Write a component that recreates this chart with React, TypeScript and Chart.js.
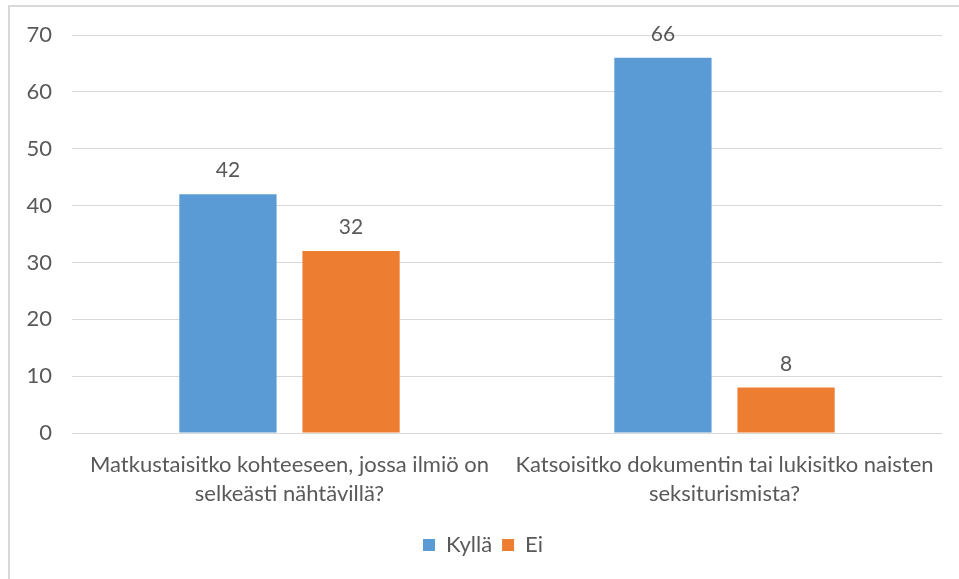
import React, { useEffect, useRef } from "react";
import { Chart, registerables } from "chart.js";

Chart.register(...registerables);

const categories: string[][] = [
  ["Matkustaisitko kohteeseen, jossa ilmiö on", "selkeästi nähtävillä?"],
  ["Katsoisitko dokumentin tai lukisitko naisten", "seksiturismista?"],
];
const seriesNames = ["Kyllä", "Ei"];
const kylla = [42, 66];
const ei = [32, 8];
const yTicks = [0, 10, 20, 30, 40, 50, 60, 70];

const FONT = "Lato, 'Open Sans', sans-serif";
const TEXT = "#595959";

const dataLabels = {
  id: "dataLabels",
  afterDatasetsDraw(chart: any) {
    const ctx = chart.ctx;
    ctx.save();
    ctx.font = `21px ${FONT}`;
    ctx.fillStyle = TEXT;
    ctx.textAlign = "center";
    ctx.textBaseline = "alphabetic";
    chart.data.datasets.forEach((ds: any, i: number) => {
      const meta = chart.getDatasetMeta(i);
      meta.data.forEach((el: any, j: number) => {
        ctx.fillText(String(ds.data[j]), el.x, el.y - 17);
      });
    });
    ctx.restore();
  },
};

export default function App() {
  const ref = useRef<HTMLCanvasElement>(null);
  useEffect(() => {
    if (!ref.current) return;
    const chart = new Chart(ref.current, {
      type: "bar",
      data: {
        labels: categories,
        datasets: [
          {
            label: seriesNames[0],
            data: kylla,
            backgroundColor: "#5B9BD5",
            barPercentage: 0.79,
            categoryPercentage: 0.566,
          },
          {
            label: seriesNames[1],
            data: ei,
            backgroundColor: "#ED7D31",
            barPercentage: 0.79,
            categoryPercentage: 0.566,
          },
        ],
      },
      options: {
        responsive: false,
        animation: false,
        layout: { padding: { top: 35, right: 17, bottom: 13, left: 24 } },
        plugins: {
          legend: {
            position: "bottom",
            labels: {
              boxWidth: 12,
              boxHeight: 12,
              padding: 10,
              color: TEXT,
              font: { family: FONT, size: 22 },
            },
          },
          tooltip: { enabled: false },
        },
        scales: {
          x: {
            grid: { display: false, drawTicks: false },
            border: { display: false },
            ticks: {
              color: TEXT,
              padding: 18,
              maxRotation: 0,
              autoSkip: false,
              font: { family: FONT, size: 22, lineHeight: 1.3 },
            },
            afterFit: (scale: any) => {
              scale.height = 91;
            },
          },
          y: {
            min: 0,
            max: 70,
            grid: { color: "#D9D9D9", lineWidth: 1, drawTicks: false },
            border: { display: false },
            afterBuildTicks: (scale: any) => {
              scale.ticks = yTicks.map((v) => ({ value: v }));
            },
            ticks: {
              color: TEXT,
              padding: 20,
              font: { family: FONT, size: 22 },
            },
            afterFit: (scale: any) => {
              scale.width = 48;
            },
          },
        },
      },
      plugins: [dataLabels],
    });
    return () => chart.destroy();
  }, []);

  return (
    <div
      style={{
        position: "fixed",
        left: 0,
        top: 0,
        width: 959,
        height: 579,
        overflow: "hidden",
        background: "#fff",
      }}
    >
      <div
        style={{
          position: "absolute",
          left: 8,
          top: 5,
          width: 1200,
          height: 1200,
          border: "2px solid #D9D9D9",
        }}
      />
      <canvas
        ref={ref}
        width={959}
        height={579}
        style={{ position: "absolute", left: 0, top: 0 }}
      />
    </div>
  );
}
